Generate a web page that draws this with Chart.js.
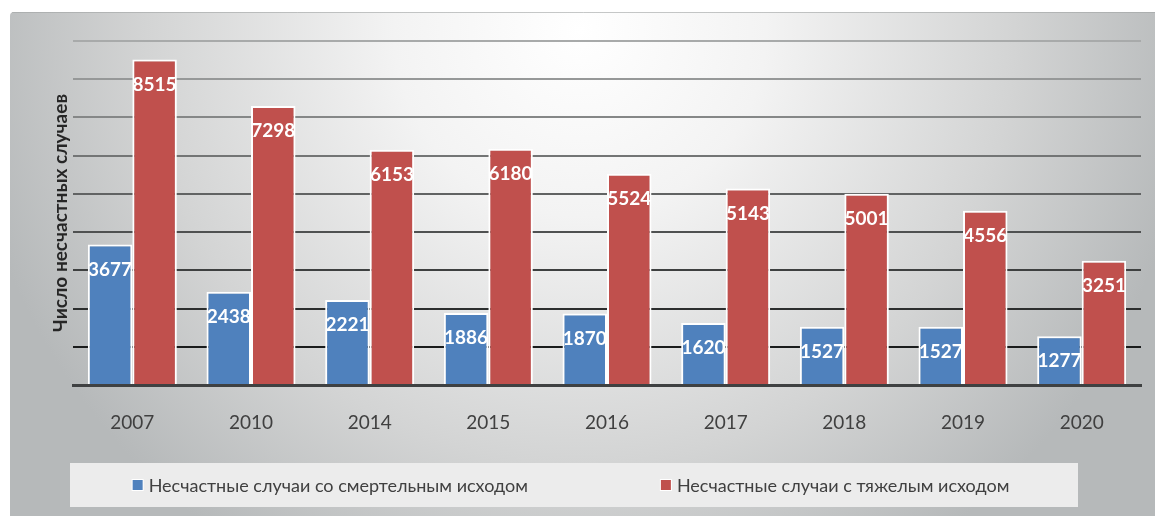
<!DOCTYPE html>
<html>
<head>
<meta charset="utf-8">
<script src="https://cdn.jsdelivr.net/npm/chart.js@4.4.1/dist/chart.umd.min.js"></script>
<style>
  html, body { margin: 0; padding: 0; background: #fff; }
  #wrap { width: 1155px; height: 516px; position: relative; }
</style>
</head>
<body>
<div id="wrap"><canvas id="chart"></canvas></div>
<script>
// data
const years = ['2007', '2010', '2014', '2015', '2016', '2017', '2018', '2019', '2020'];
const fatal = [3677, 2438, 2221, 1886, 1870, 1620, 1527, 1527, 1277];
const severe = [8515, 7298, 6153, 6180, 5524, 5143, 5001, 4556, 3251];
const seriesNames = ['Несчастные случаи со смертельным исходом', 'Несчастные случаи с тяжелым исходом'];
const yTitle = 'Число несчастных случаев';

const FONT = "Lato, 'Noto Sans', sans-serif";
const BLUE = '#4f81bd';
const RED = '#c0504d';

// gray radial panel behind everything
const panelBg = {
  id: 'panelBg',
  beforeDraw(chart) {
    const { ctx, width, height } = chart;
    ctx.save();
    ctx.fillStyle = '#fff';
    ctx.fillRect(0, 0, width, height);
    const g = ctx.createRadialGradient(580, 30, 0, 580, 30, 620);
    g.addColorStop(0, '#ffffff');
    g.addColorStop(0.3, '#f3f3f3');
    g.addColorStop(0.7, '#d3d4d4');
    g.addColorStop(1, '#b6b9ba');
    ctx.fillStyle = g;
    ctx.beginPath();
    ctx.roundRect(10, 12, width - 10, height - 12, [4, 0, 0, 0]);
    ctx.fill();
    ctx.strokeStyle = 'rgba(160,163,164,0.6)';
    ctx.lineWidth = 1;
    ctx.beginPath();
    ctx.moveTo(12, 12.5);
    ctx.lineTo(width, 12.5);
    ctx.stroke();
    ctx.restore();
  }
};

// white values just under the top of each bar
const barValues = {
  id: 'barValues',
  afterDatasetsDraw(chart) {
    const { ctx } = chart;
    ctx.save();
    ctx.font = 'bold 19px ' + FONT;
    ctx.fillStyle = '#fff';
    ctx.textAlign = 'center';
    ctx.textBaseline = 'middle';
    chart.data.datasets.forEach((ds, di) => {
      chart.getDatasetMeta(di).data.forEach((bar, i) => {
        ctx.fillText(String(ds.data[i]), bar.x, bar.y + 25);
      });
    });
    ctx.restore();
  }
};

// legend strip at the bottom
const legendStrip = {
  id: 'legendStrip',
  afterDraw(chart) {
    const { ctx } = chart;
    const top = 463, h = 44;
    ctx.save();
    ctx.fillStyle = '#ececec';
    ctx.fillRect(70, top, 1008, h);
    ctx.font = '18px ' + FONT;
    ctx.textBaseline = 'middle';
    const box = 10, gapBox = 6, gapItems = 133;
    const items = chart.data.datasets.map(ds => ({
      text: ds.label, color: ds.backgroundColor, w: box + gapBox + ctx.measureText(ds.label).width
    }));
    const total = items.reduce((s, it) => s + it.w, 0) + gapItems * (items.length - 1);
    let x = 571 - total / 2;
    const cy = top + h / 2;
    items.forEach(it => {
      ctx.fillStyle = '#fff';
      ctx.fillRect(x - 1, cy - box / 2 - 1, box + 2, box + 2);
      ctx.fillStyle = it.color;
      ctx.fillRect(x, cy - box / 2, box, box);
      ctx.fillStyle = '#404040';
      ctx.fillText(it.text, x + box + gapBox, cy + 1);
      x += it.w + gapItems;
    });
    ctx.restore();
  }
};

function gridShade(i) {
  // lower lines darker, upper lines fade to light gray
  if (i === 0) return 'rgba(0,0,0,0)';
  const t = (i - 1) / 8;
  const c = Math.round(26 + t * (168 - 26));
  return `rgb(${c},${c + 2},${c + 2})`;
}

new Chart(document.getElementById('chart'), {
  type: 'bar',
  data: {
    labels: years,
    datasets: [
      { label: seriesNames[0], data: fatal, backgroundColor: BLUE, borderColor: '#fff', borderWidth: 2 },
      { label: seriesNames[1], data: severe, backgroundColor: RED, borderColor: '#fff', borderWidth: 2 },
    ]
  },
  options: {
    responsive: true,
    maintainAspectRatio: false,
    animation: false,
    categoryPercentage: 0.75,
    barPercentage: 1.0,
    layout: { padding: { top: 41, left: 10, right: 14, bottom: 0 } },
    plugins: {
      legend: { display: false },
      tooltip: { enabled: false },
    },
    scales: {
      x: {
        grid: { display: false, drawTicks: false },
        border: { display: true, color: '#3f4142', width: 3 },
        ticks: { color: '#404040', font: { family: FONT, size: 19 }, padding: 26 },
        afterFit(scale) { scale.height = 131; }
      },
      y: {
        min: 0, max: 9000,
        ticks: { display: false, stepSize: 1000 },
        grid: { drawTicks: false, lineWidth: 2, color: ctx => gridShade(ctx.index) },
        border: { display: false },
        title: {
          display: true, text: yTitle, color: '#262626',
          font: { family: FONT, size: 19, weight: 'bold' },
          padding: { top: 39, bottom: 0 }
        },
        afterFit(scale) { scale.width = 63; }
      }
    }
  },
  plugins: [panelBg, barValues, legendStrip]
});
</script>
</body>
</html>
